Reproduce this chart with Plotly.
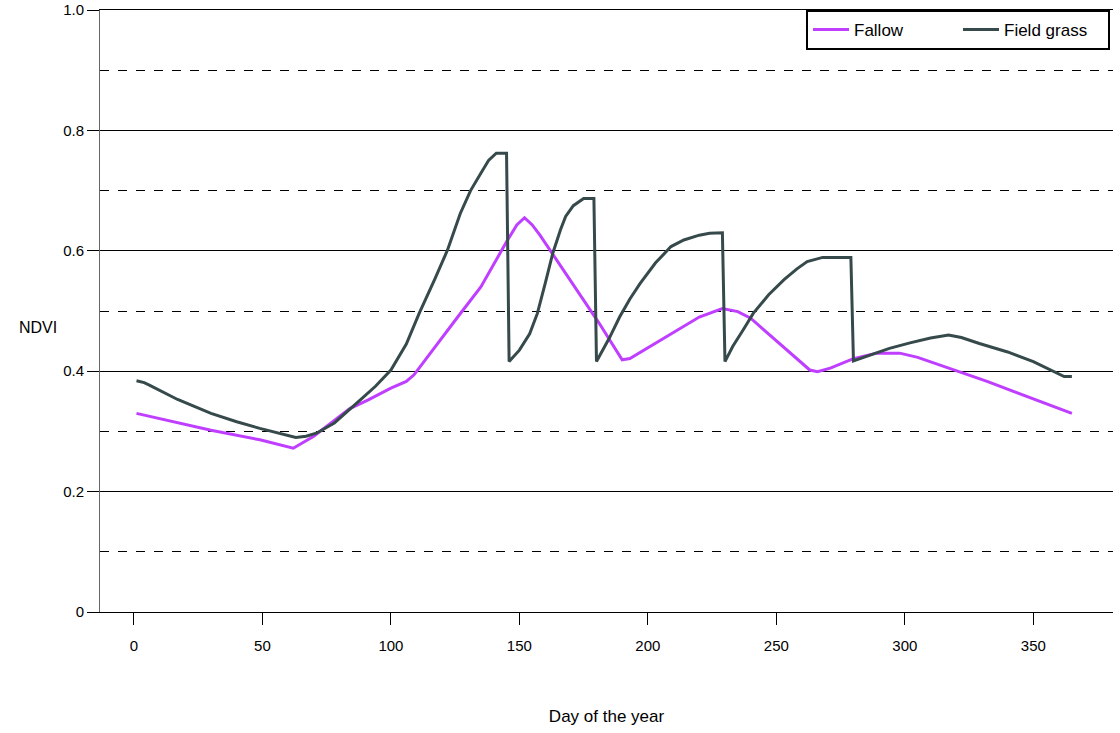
import plotly.graph_objects as go

# Fallow (day, NDVI)
fallow_day = [1, 30, 49, 62, 70, 84, 91, 100, 106, 109, 126, 135, 145, 149, 152, 155, 158,
              181, 190, 193, 220, 229, 235, 240, 263, 266, 271, 280, 289, 298, 305, 319, 332, 365]
fallow_ndvi = [0.330, 0.302, 0.286, 0.272, 0.292, 0.338, 0.352, 0.372, 0.383, 0.394, 0.490, 0.540,
               0.615, 0.643, 0.655, 0.643, 0.626, 0.480, 0.419, 0.421, 0.490, 0.504, 0.499, 0.488,
               0.402, 0.399, 0.405, 0.421, 0.430, 0.430, 0.423, 0.402, 0.383, 0.330]

# Field grass (day, NDVI)
grass_day = [1, 4, 6, 17, 30, 40, 49, 57, 63, 67, 71, 78, 84, 88, 94, 100, 106, 111, 117, 122, 127,
             131, 135, 138, 141, 145, 146, 150, 154, 157, 160, 163, 166, 168, 171, 175, 179, 180,
             185, 189, 193, 197, 203, 209, 214, 220, 224, 229, 230, 233, 237, 241, 247, 253, 258,
             262, 268, 279, 280, 287, 294, 302, 310, 317, 322, 329, 340, 350, 356, 362, 365]
grass_ndvi = [0.384, 0.381, 0.377, 0.353, 0.330, 0.316, 0.305, 0.296, 0.290, 0.292, 0.297, 0.314,
              0.336, 0.352, 0.375, 0.402, 0.445, 0.496, 0.552, 0.601, 0.662, 0.700, 0.729, 0.750,
              0.762, 0.762, 0.416, 0.435, 0.462, 0.496, 0.545, 0.596, 0.635, 0.657, 0.675, 0.687,
              0.687, 0.416, 0.455, 0.490, 0.520, 0.546, 0.580, 0.607, 0.618, 0.626, 0.629, 0.630,
              0.416, 0.441, 0.468, 0.496, 0.527, 0.552, 0.570, 0.582, 0.589, 0.589, 0.417, 0.428,
              0.438, 0.447, 0.455, 0.460, 0.456, 0.446, 0.432, 0.416, 0.403, 0.391, 0.391]

x_ticks = [0, 50, 100, 150, 200, 250, 300, 350]
y_major = [0, 0.2, 0.4, 0.6, 0.8, 1.0]
y_major_text = ["0", "0.2", "0.4", "0.6", "0.8", "1.0"]
y_minor = [0.1, 0.3, 0.5, 0.7, 0.9]

FONT = "Liberation Sans, Arial, sans-serif"
PLOT_W = 1013

fig = go.Figure()
fig.add_trace(go.Scatter(x=fallow_day, y=fallow_ndvi, mode="lines", name="Fallow",
                         line=dict(color="#BF3EFF", width=3)))
fig.add_trace(go.Scatter(x=grass_day, y=grass_ndvi, mode="lines", name="Field grass",
                         line=dict(color="#364A4C", width=3)))

fig.update_layout(
    width=1120, height=733,
    margin=dict(l=100, r=7, t=10, b=121),
    paper_bgcolor="white", plot_bgcolor="white",
    font=dict(family=FONT, color="black", size=15),
    legend=dict(orientation="h", x=(806 - 100) / PLOT_W, y=1.0, xanchor="left", yanchor="top",
                bgcolor="white", bordercolor="black", borderwidth=2,
                entrywidth=99, entrywidthmode="pixels", itemwidth=36,
                font=dict(size=17, family=FONT)),
    annotations=[dict(text="NDVI", x=(38 - 100) / PLOT_W, y=0.472, xref="paper", yref="paper",
                      xanchor="center", showarrow=False, font=dict(size=16, family=FONT))],
)

fig.update_xaxes(range=[-13.2, 381], tickvals=x_ticks, ticks="outside", ticklen=12,
                 tickcolor="black", showgrid=False, zeroline=False, showline=True,
                 mirror=True, linecolor="black", linewidth=1.2, tickfont=dict(size=15),
                 automargin=False, ticklabelstandoff=8,
                 title=dict(text="Day of the year", font=dict(size=17), standoff=57))
fig.update_yaxes(range=[0, 1], tickvals=y_major, ticktext=y_major_text, ticks="outside",
                 ticklen=12, tickcolor="black", showgrid=True, gridcolor="black", gridwidth=1,
                 zeroline=False, showline=True, linecolor="#666666", linewidth=1,
                 tickfont=dict(size=15), automargin=False,
                 minor=dict(tickvals=y_minor, showgrid=True, gridcolor="black",
                            griddash="dash", gridwidth=1, ticks=""))

fig.write_html("out.html", config={"displayModeBar": False},
               post_script="document.body.style.margin='0px';document.body.style.overflow='hidden';")
